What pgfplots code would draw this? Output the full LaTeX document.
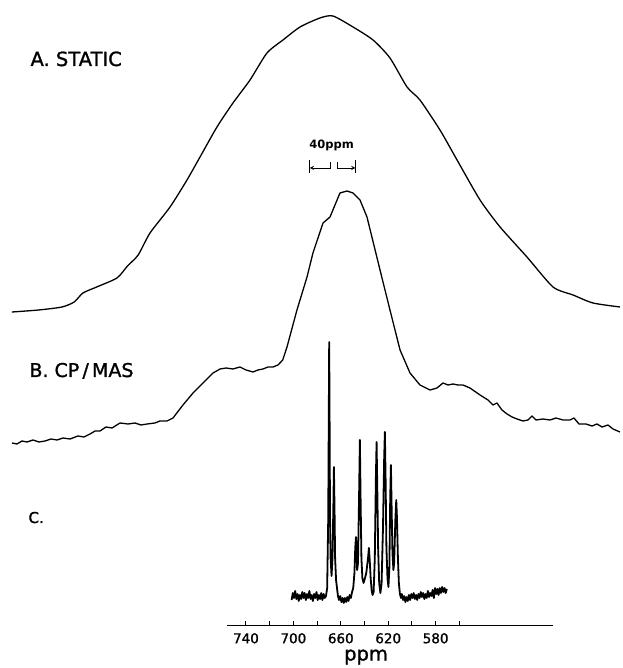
\documentclass[border=0pt]{standalone}
\usepackage{pgfplots}
\pgfplotsset{compat=1.18}
\usepackage{fontspec}
\setmainfont{DejaVu Sans}
\newfontfamily\lett{DejaVu Sans}[FakeBold=1.3]

% spectra, y = height on the page (pt), x = ppm
\pgfplotstableread{
ppm y
937.5 356
915.0 358
895.3 361
885.0 366
877.6 375
866.0 381
848.9 390
840.0 402
831.0 413
821.0 435
804.1 461
789.8 488
778.8 511
764.5 541
751.0 565
736.6 588
722.3 615
708.8 628
694.4 641
677.6 650
666.6 652
649.7 641
632.8 628
618.5 610
604.1 581
593.2 568
576.3 538
561.9 508
542.5 468
525.6 441
502.9 411
480.9 381
464.0 373
447.2 365
424.4 361
}\staticdata

\pgfplotstableread{
ppm y
937.5 225
933.3 224
929.0 227
924.8 226
919.7 228
914.7 226
909.6 227
904.6 229
899.5 228
894.4 230
888.5 229
881.8 232
876.7 231
871.6 234
867.4 237
863.2 237
858.1 241
853.1 240
846.3 245
839.6 244
833.7 245
828.6 243
823.5 244
816.8 245
812.6 247
806.7 247
801.6 250
793.2 263
784.7 275
776.3 285
767.8 295
761.9 299
756.9 300
751.0 299
745.1 301
740.0 298
734.1 296
729.9 298
725.7 299
721.4 301
717.2 301
713.0 303
709.0 308
705.4 321
697.0 358
688.5 391
683.5 415
675.0 445
669.1 451
660.7 475
654.8 477
649.7 475
643.8 468
637.9 451
626.9 398
618.5 358
610.0 318
601.6 295
593.2 283
584.7 278
578.8 280
573.8 285
569.5 283
565.3 284
561.1 283
556.9 283
551.0 280
542.5 273
535.8 268
531.6 263
528.2 265
524.0 258
519.7 254
515.5 251
511.3 249
506.2 247
502.0 248
498.6 252
495.3 248
489.4 249
483.5 248
478.4 250
472.5 248
466.6 248
463.2 250
459.0 244
453.1 244
448.0 242
443.8 244
439.6 241
434.5 243
430.3 239
424.4 236
}\masdata

\pgfplotstableread{
ppm y
701.5 68
700.5 75
699.5 70
698.5 77
697.5 69
696.5 74
695.5 67
694.5 73
693.5 69
692.5 76
691.5 70
690.5 75
689.5 68
688.5 74
687.5 70
686.5 77
685.5 69
684.5 73
683.5 67
682.5 74
681.5 70
680.5 76
679.5 68
678.5 73
677.5 69
676.5 75
675.5 68
674.5 74
673.5 70
672.5 72
671.5 80
670.6 150
670.1 260
669.8 326
669.5 260
669.1 150
668.6 110
667.8 92
667.0 110
666.3 160
665.8 201
665.3 160
664.8 110
664.0 88
663.2 80
662.4 72
661.5 68
660.5 72
659.5 66
658.5 70
657.5 65
656.5 70
655.5 66
654.5 71
653.5 67
652.5 73
651.5 70
650.5 76
649.5 80
648.5 95
647.8 120
647.2 131
646.7 115
646.2 98
645.5 105
644.6 170
643.9 228
643.3 170
642.6 110
641.8 90
640.8 85
640.0 88
638.5 95
637.0 110
636.3 120
635.6 108
634.8 90
634.0 78
633.2 73
632.3 76
631.3 110
630.4 190
629.8 226
629.2 180
628.5 120
627.6 85
626.6 75
625.6 84
624.4 140
623.4 210
622.8 236
622.2 190
621.5 120
620.6 90
619.8 81
619.0 100
618.3 170
617.7 203
617.1 160
616.4 115
615.6 98
615.0 105
613.9 150
613.2 168
612.6 150
611.8 110
611.0 85
610.1 74
609.2 70
608.5 74
607.5 68
606.5 72
605.5 66
604.5 71
603.5 67
602.5 73
601.5 68
600.5 74
599.5 70
598.5 75
597.5 69
596.5 73
595.5 68
594.5 74
593.5 70
592.5 76
591.5 71
590.5 75
589.5 69
588.5 74
587.5 70
586.5 77
585.5 71
584.5 75
583.5 72
582.5 78
581.5 70
580.5 80
579.5 74
578.5 79
577.5 73
576.5 80
575.5 75
574.5 81
573.5 76
572.5 80
571.5 75
570.5 79
}\xtaldata

\begin{document}
\begin{tikzpicture}
\useasboundingbox (0,0) rectangle (622pt,668pt);
\begin{axis}[
	at={(0,0)}, anchor=south west,
	scale only axis,
	width=622pt, height=668pt,
	xmin=422.7, xmax=947.6, x dir=reverse,
	ymin=0, ymax=668,
	hide axis, clip=false]
\addplot[black, line width=1.3pt, smooth, tension=0.4] table[x=ppm, y=y] {\staticdata};
\addplot[black, line width=1.3pt, line join=round] table[x=ppm, y=y] {\masdata};
\addplot[black, line width=1.8pt, line join=round] table[x=ppm, y=y] {\xtaldata};
\node[anchor=base west, font=\lett\fontsize{19.5}{20}\selectfont] at (axis cs:924.8,602) {A. STATIC};
\node[anchor=base west, font=\lett\fontsize{19}{20}\selectfont] at (axis cs:925.7,291) {B. CP\,/\,MAS};
\node[anchor=base west, font=\lett\fontsize{15}{16}\selectfont] at (axis cs:926.5,145) {C.};
\node[anchor=base, font=\bfseries\fontsize{11.5}{12}\selectfont] at (axis cs:667.8,519) {40ppm};
\draw[line width=1pt] (axis cs:686.6,495) -- (axis cs:686.6,508);
\draw[line width=1pt] (axis cs:647.2,495) -- (axis cs:647.2,508);
\draw[line width=0.9pt, ->, >=stealth] (axis cs:668.5,506) -- (axis cs:668.5,500) -- (axis cs:686.2,500);
\draw[line width=0.9pt, ->, >=stealth] (axis cs:663.0,506) -- (axis cs:663.0,500) -- (axis cs:647.6,500);
\node[anchor=base, font=\lett\fontsize{19.5}{20}\selectfont] at (axis cs:638.7,7.5) {ppm};
\end{axis}
\begin{axis}[
	at={(227pt,42pt)}, anchor=south west,
	scale only axis,
	width=326pt, height=10pt,
	xmin=481, xmax=756, x dir=reverse,
	ymin=0, ymax=1,
	axis x line*=bottom, axis y line=none,
	xtick={740,720,...,560},
	xticklabels={740,,700,,660,,620,,580,},
	xtick align=inside,
	major tick length=5pt,
	axis line style={line width=1pt},
	tick style={line width=1pt, black},
	/pgf/number format/assume math mode=true,
	xticklabel style={font=\lett\fontsize{13.5}{14}\selectfont, inner sep=0pt, yshift=-7pt}]
\addplot[draw=none] coordinates {(700,0)};
\end{axis}
\end{tikzpicture}
\end{document}
